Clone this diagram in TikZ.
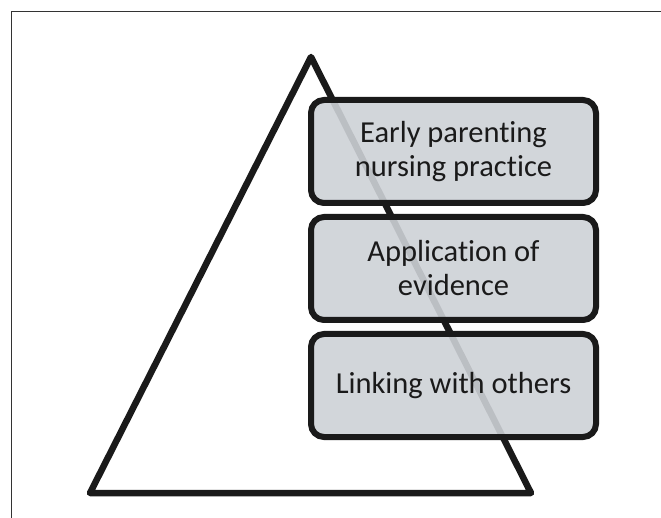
\documentclass[tikz,border=0pt]{standalone}
\usepackage{fontspec}
\setmainfont{Carlito}[Ligatures=NoCommon]
\usetikzlibrary{positioning}
\definecolor{inkBlack}{HTML}{1A1A1A}
\definecolor{boxGrey}{HTML}{CDD1D6}
\definecolor{frameGrey}{HTML}{333333}
\tikzset{
  frame/.style   = {draw=frameGrey, line width=1.5pt},
  pyramid/.style = {draw=inkBlack, line width=6.5pt, line join=round},
  level/.style   = {draw=inkBlack, line width=6pt, fill=boxGrey, fill opacity=0.9,
                    text opacity=1, rounded corners=13pt, minimum width=285pt,
                    minimum height=103pt, inner sep=0pt, outer sep=0pt, align=center,
                    font=\fontsize{30.5}{34}\selectfont, text=inkBlack}
}
\begin{document}
\begin{tikzpicture}[x=1pt, y=-1pt, node distance=14pt]
  \useasboundingbox (0,0) rectangle (661,518);
  \draw[frame] (11.5,518) -- (11.5,11.5) -- (661,11.5);

  % pyramid behind the levels
  \coordinate (apex) at (311,57);
  \coordinate (baseL) at (90,493);
  \coordinate (baseR) at (531,493);
  \draw[pyramid] (apex) -- (baseL) -- (baseR) -- cycle;

  \node[level] (practice) at (453.5,151.5) {Early parenting\\nursing practice};
  \node[level, below=of practice] (evidence) {Application of\\evidence};
  \node[level, below=of evidence] (linking) {Linking with others};
\end{tikzpicture}
\end{document}
